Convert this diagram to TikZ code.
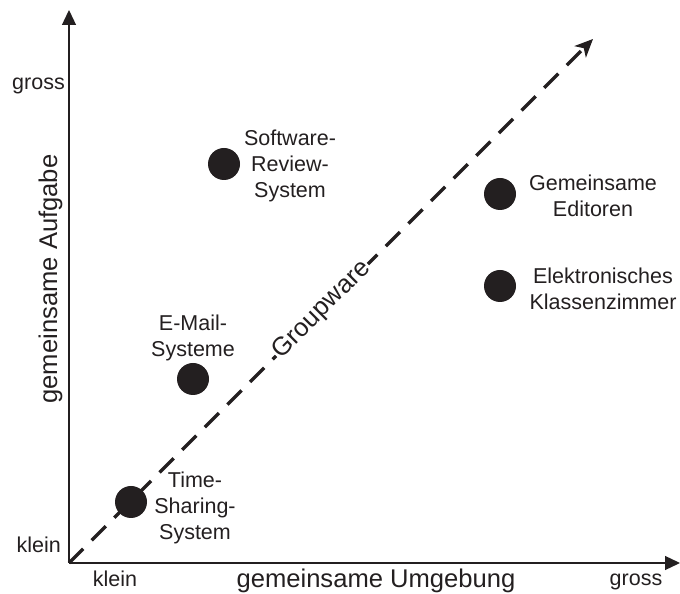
\documentclass[tikz,border=0pt]{standalone}
\usepackage{fontspec}
\setmainfont{Liberation Sans}
\usetikzlibrary{arrows.meta}
\definecolor{ink}{HTML}{231F20}
\begin{document}
\begin{tikzpicture}[x=1pt,y=1pt,
  lbl/.style={font=\fontsize{21.5}{26}\selectfont, text=ink, align=center, inner sep=0pt},
  ttl/.style={font=\fontsize{25.6}{30}\selectfont, text=ink, inner sep=0pt},
  dot/.style={circle, fill=ink, minimum size=32pt, inner sep=0pt},
  axis/.style={draw=ink, line width=1.3pt, -{Triangle[length=15pt,width=14pt]}},
  grp/.style={draw=ink, line width=3.5pt, dash pattern=on 20pt off 12pt, -{Stealth[length=18pt,width=16pt,inset=5pt]}}]
\useasboundingbox (0,0) rectangle (680,594);
\coordinate (O) at (69,31);
\coordinate (ytip) at (69,584);
\coordinate (xtip) at (680,31);
\coordinate (gtip) at (593,555);
% axes
\draw[axis] (O) -- (ytip);
\draw[axis] (O) -- (xtip);
% groupware diagonal
\draw[grp] (O) -- (gtip);
\node[ttl, fill=white, inner sep=1.5pt, rotate=45] (gw) at (322,284) {Groupware};
% axis labels
\node[lbl, anchor=base east] (ygross) at (65,504) {gross};
\node[lbl, anchor=base east] (yklein) at (61,41) {klein};
\node[lbl, anchor=base] (xklein) at (115,7) {klein};
\node[lbl, anchor=base] (xgross) at (636,8) {gross};
\node[ttl, anchor=base] (xtitle) at (376,6) {gemeinsame Umgebung};
\node[ttl, anchor=base, rotate=90] (ytitle) at (57,315) {gemeinsame Aufgabe};
% dots
\node[dot] (ts) at (131,92) {};
\node[dot] (em) at (193,215) {};
\node[dot] (sr) at (224,430) {};
\node[dot] (ge) at (500,400) {};
\node[dot] (ek) at (500,308) {};
% dot labels
\node[lbl] (tsl) at (195,86) {Time-\\Sharing-\\System};
\node[lbl] (eml) at (193,256) {E-Mail-\\Systeme};
\node[lbl] (srl) at (290,428) {Software-\\Review-\\System};
\node[lbl] (gel) at (593,398) {Gemeinsame\\Editoren};
\node[lbl] (ekl) at (603,305) {Elektronisches\\Klassenzimmer};
\end{tikzpicture}
\end{document}
